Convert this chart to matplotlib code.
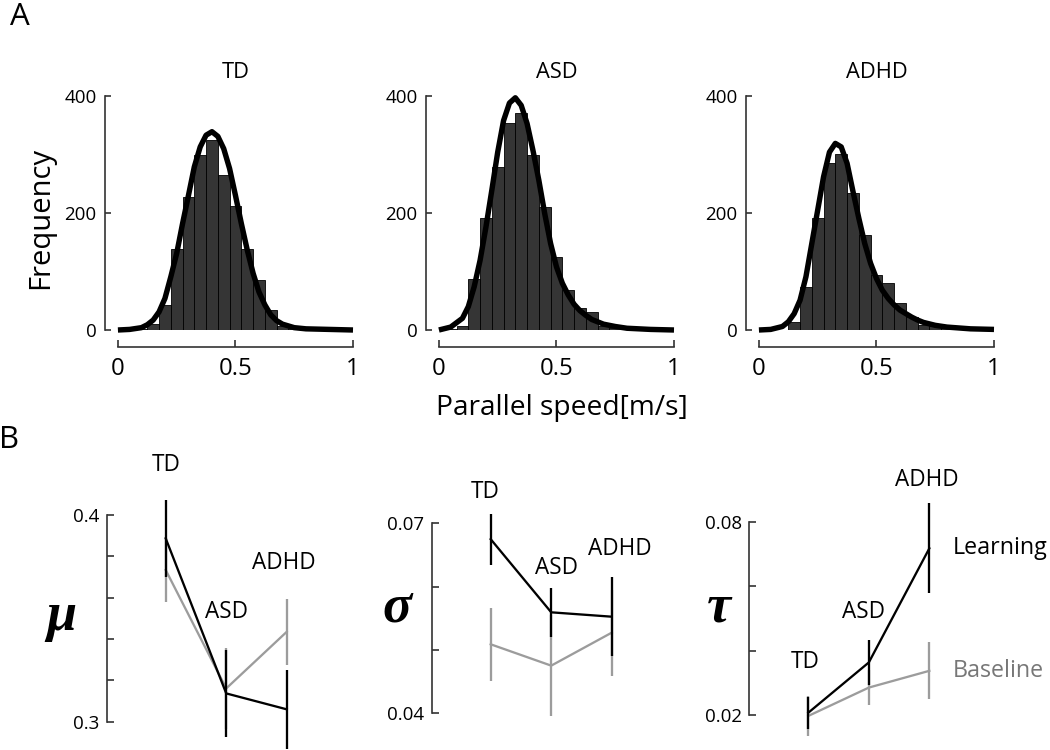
import numpy as np
import matplotlib
matplotlib.use("Agg")
import matplotlib.pyplot as plt

plt.rcParams["font.family"] = ["Open Sans", "DejaVu Sans"]

# --- A: histograms of parallel speed (bin centres, counts) + fitted curve
groups = ["TD", "ASD", "ADHD"]
bin_centers = [0.05, 0.1, 0.15, 0.2, 0.25, 0.3, 0.35, 0.4, 0.45, 0.5, 0.55, 0.6, 0.65, 0.7, 0.75, 0.8]
counts_td = [0, 1, 10, 43, 138, 228, 299, 325, 265, 212, 138, 86, 34, 6, 2, 0]
counts_asd = [2, 7, 88, 191, 279, 353, 371, 299, 211, 124, 69, 37, 30, 7, 3, 0]
counts_adhd = [0, 0, 14, 74, 191, 285, 300, 235, 162, 94, 81, 46, 22, 9, 7, 3]

fit_x = [0, 0.05, 0.1, 0.125, 0.15, 0.175, 0.2, 0.225, 0.25, 0.275, 0.3, 0.325, 0.35, 0.375, 0.4, 0.425,
         0.45, 0.475, 0.5, 0.525, 0.55, 0.575, 0.6, 0.625, 0.65, 0.675, 0.7, 0.75, 0.8, 0.9, 1.0]
fit_td = [0, 1, 4, 9, 17, 31, 54, 91, 131, 182, 230, 279, 313, 333, 339, 331,
          310, 276, 230, 182, 137, 97, 65, 43, 26, 16, 10, 4, 2, 1, 0]
fit_asd = [0, 5, 20, 40, 74, 119, 176, 239, 304, 358, 388, 397, 384, 353, 307, 256,
           199, 148, 108, 80, 60, 44, 33, 25, 18, 14, 10, 6, 3, 1, 0]
fit_adhd = [0, 1, 6, 14, 28, 51, 91, 148, 205, 262, 304, 319, 313, 285, 237, 191,
            148, 114, 88, 68, 54, 43, 34, 28, 22, 17, 13, 8, 5, 2, 1]

# --- B: ex-gaussian parameters (mean, error) for Learning and Baseline
mu_learn = [0.3887, 0.3137, 0.306]
mu_learn_err = [0.0185, 0.021, 0.019]
mu_base = [0.3734, 0.3161, 0.3435]
mu_base_err = [0.0153, 0.0198, 0.016]

sigma_learn = [0.0675, 0.05595, 0.05526]
sigma_learn_err = [0.004, 0.0039, 0.0062]
sigma_base = [0.0509, 0.04753, 0.05274]
sigma_base_err = [0.0058, 0.008, 0.0068]

tau_learn = [0.0207, 0.0363, 0.0717]
tau_learn_err = [0.0049, 0.0070, 0.014]
tau_base = [0.0197, 0.0285, 0.0337]
tau_base_err = [0.0062, 0.0054, 0.0088]

BAR_C = "#353535"
GRAY = "#9c9c9c"
SPINE_C = "#333333"

fig = plt.figure(figsize=(7, 5), dpi=150)

# top row
lefts = [105, 426, 746]
hist_counts = [counts_td, counts_asd, counts_adhd]
fits = [fit_td, fit_asd, fit_adhd]
for i in range(3):
    ax = fig.add_axes([lefts[i] / 1050, 0.56, 248 / 1050, 0.312])
    ax.bar(bin_centers, hist_counts[i], width=0.05, color=BAR_C, edgecolor="black", linewidth=0.4)
    ax.plot(fit_x, fits[i], color="black", lw=2.6, clip_on=False, solid_capstyle="butt")
    ax.set_xlim(-0.055, 1.0)
    ax.set_ylim(0, 400)
    ax.spines["top"].set_visible(False)
    ax.spines["right"].set_visible(False)
    ax.spines["left"].set_bounds(0, 400)
    ax.spines["bottom"].set_position(("outward", 8))
    ax.spines["bottom"].set_bounds(0, 1)
    for s in ["left", "bottom"]:
        ax.spines[s].set_color(SPINE_C)
        ax.spines[s].set_linewidth(0.8)
    ax.set_yticks([0, 200, 400])
    ax.set_xticks([0, 0.5, 1])
    ax.set_xticklabels(["0", "0.5", "1"])
    ax.tick_params(axis="y", direction="in", length=3, width=0.8, labelsize=9, pad=4, color=SPINE_C)
    ax.tick_params(axis="x", direction="in", length=3.5, width=0.8, labelsize=11.5, pad=5, color=SPINE_C)
    ax.patch.set_visible(False)
    ax.text(0.5, 440, groups[i], ha="center", va="center", fontsize=10.5)

fig.text(0.039, 0.71, "Frequency", rotation=90, ha="center", va="center", fontsize=14)
fig.text(0.535, 0.456, "Parallel speed[m/s]", ha="center", va="center", fontsize=13.5)
fig.text(0.019, 0.977, "A", ha="center", va="center", fontsize=15)
fig.text(0.009, 0.413, "B", ha="center", va="center", fontsize=15)

# bottom row
xpos = [1, 2, 3]
panels = [
    dict(left=106.7, bottom=0.0377, height=0.2756, ylim=(0.3, 0.4), ticks=np.linspace(0.3, 0.4, 6),
         lab=("0.3", "0.4"), learn=mu_learn, learn_err=mu_learn_err, base=mu_base, base_err=mu_base_err,
         sym="μ", sym_xy=(61.7, 616.7),
         names=[(1.0, 0.4242), (2.0, 0.3532), (2.95, 0.3768)]),
    dict(left=431.7, bottom=0.0489, height=0.2533, ylim=(0.04, 0.07), ticks=np.linspace(0.04, 0.07, 4),
         lab=("0.04", "0.07"), learn=sigma_learn, learn_err=sigma_learn_err, base=sigma_base, base_err=sigma_base_err,
         sym="σ", sym_xy=(396.7, 608.3),
         names=[(0.906, 0.075), (2.09, 0.0629), (3.14, 0.0659)]),
    dict(left=749.3, bottom=0.0467, height=0.2578, ylim=(0.02, 0.08), ticks=np.linspace(0.02, 0.08, 4),
         lab=("0.02", "0.08"), learn=tau_learn, learn_err=tau_learn_err, base=tau_base, base_err=tau_base_err,
         sym="τ", sym_xy=(719, 608),
         names=[(0.946, 0.0365), (1.909, 0.0521), (2.957, 0.0929)]),
]

for p in panels:
    ax = fig.add_axes([p["left"] / 1050, p["bottom"], 200 / 1050, p["height"]])
    ax.set_xlim(0.025, 3.33)
    ax.set_ylim(*p["ylim"])
    base = np.array(p["base"])
    be = np.array(p["base_err"])
    learn = np.array(p["learn"])
    le = np.array(p["learn_err"])
    ax.plot(xpos, base, color=GRAY, lw=1.1, clip_on=False)
    ax.vlines(xpos, base - be, base + be, color=GRAY, lw=1.1, clip_on=False)
    ax.plot(xpos, learn, color="black", lw=1.1, clip_on=False)
    ax.vlines(xpos, learn - le, learn + le, color="black", lw=1.1, clip_on=False)
    for s in ["top", "right", "bottom"]:
        ax.spines[s].set_visible(False)
    ax.spines["left"].set_color(SPINE_C)
    ax.spines["left"].set_linewidth(0.8)
    ax.set_xticks([])
    ax.set_yticks(p["ticks"])
    labels = [""] * len(p["ticks"])
    labels[0] = p["lab"][0]
    labels[-1] = p["lab"][1]
    ax.set_yticklabels(labels)
    ax.tick_params(axis="y", direction="in", length=3.4, width=0.8, labelsize=9, pad=3.5, color=SPINE_C)
    ax.patch.set_visible(False)
    for g, (nx, ny) in zip(groups, p["names"]):
        ax.text(nx, ny, g, ha="center", va="center", fontsize=10.8, clip_on=False)
    fig.text(p["sym_xy"][0] / 1050, 1 - p["sym_xy"][1] / 750, p["sym"], ha="center", va="center",
             fontsize=26, family="Liberation Serif", style="italic", weight="bold")
    last_ax = ax

# legend-like labels next to the tau panel
last_ax.text(3.38, tau_learn[2], "Learning", ha="left", va="center", fontsize=11.2, clip_on=False)
last_ax.text(3.38, tau_base[2], "Baseline", ha="left", va="center", fontsize=11.2, color="#777777", clip_on=False)

fig.savefig("out.png", dpi=150)
